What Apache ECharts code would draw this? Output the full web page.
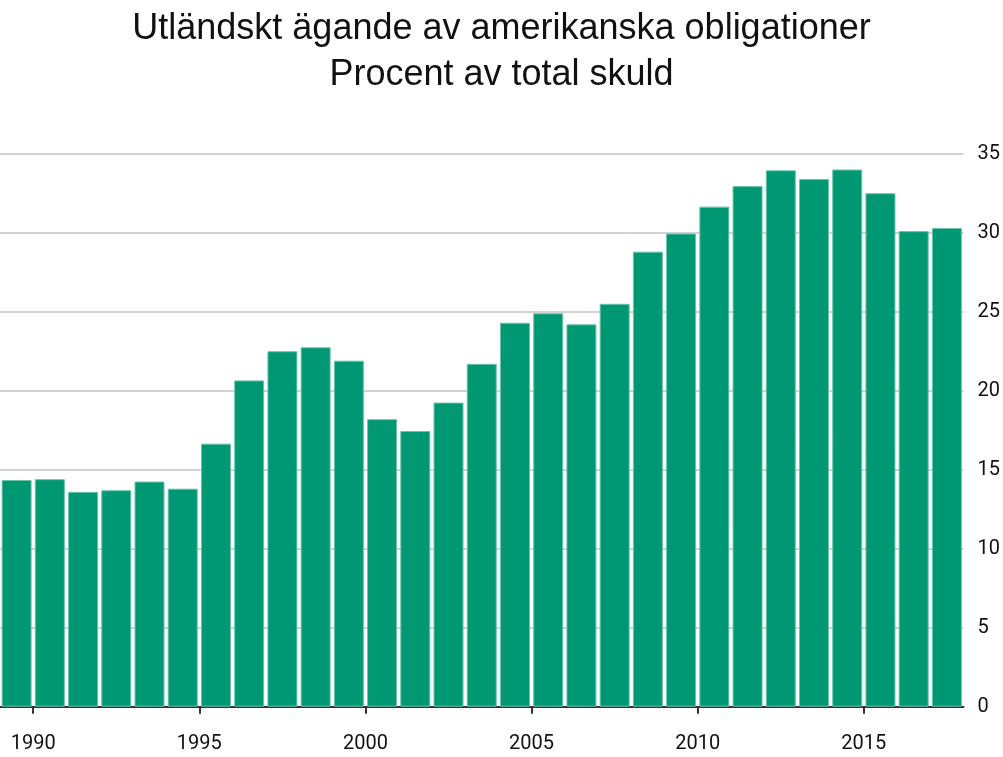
<!DOCTYPE html>
<html>
<head>
<meta charset="utf-8">
<script src="https://cdn.jsdelivr.net/npm/echarts@6/dist/echarts.min.js"></script>
<style>html,body{margin:0;padding:0;background:#fff}#c{width:1003px;height:757px}</style>
</head>
<body>
<div id="c"></div>
<script>
const years = [1989,1990,1991,1992,1993,1994,1995,1996,1997,1998,1999,2000,2001,2002,2003,2004,2005,2006,2007,2008,2009,2010,2011,2012,2013,2014,2015,2016,2017];
const values = [14.35,14.4,13.6,13.7,14.25,13.8,16.65,20.65,22.5,22.75,21.9,18.2,17.45,19.25,21.7,24.3,24.9,24.2,25.5,28.8,29.95,31.65,32.95,33.95,33.4,34.0,32.5,30.1,30.3];
const xTickYears = [1990,1995,2000,2005,2010,2015];
const titleLines = ['Utländskt ägande av amerikanska obligationer','Procent av total skuld'];

const chart = echarts.init(document.getElementById('c'), null, {renderer:'canvas'});
chart.setOption({
  animation:false,
  backgroundColor:'#fff',
  title:{
    text: titleLines.join('\n'),
    left:'center', top:1,
    textStyle:{fontFamily:'Liberation Sans, Arial, sans-serif', fontWeight:'normal', fontSize:36, lineHeight:46, color:'#111'}
  },
  grid:{left:-1.6, right:38.8, top:153.7, bottom:50.3},
  xAxis:{
    type:'value', min:1989, max:2018,
    splitLine:{show:false},
    axisLine:{show:true, lineStyle:{color:'#333', width:2}},
    axisTick:{show:true, customValues:xTickYears, length:7, lineStyle:{color:'#333', width:2}},
    axisLabel:{customValues:xTickYears, margin:27, fontFamily:'Roboto, sans-serif', fontSize:20, color:'#111', formatter:v=>String(v)}
  },
  yAxis:{
    type:'value', position:'right', min:0, max:35, interval:5,
    axisLine:{show:false}, axisTick:{show:false},
    splitLine:{show:true, lineStyle:{color:'#d2d2d2', width:2}},
    axisLabel:{margin:14, fontFamily:'Roboto, sans-serif', fontSize:20, color:'#111'}
  },
  series:[{
    type:'bar',
    data: years.map((y,i)=>[y+0.5, values[i]]),
    barWidth:30,
    itemStyle:{color:'#009872', borderColor:'#6cc4aa', borderWidth:1}
  }]
});
</script>
</body>
</html>
